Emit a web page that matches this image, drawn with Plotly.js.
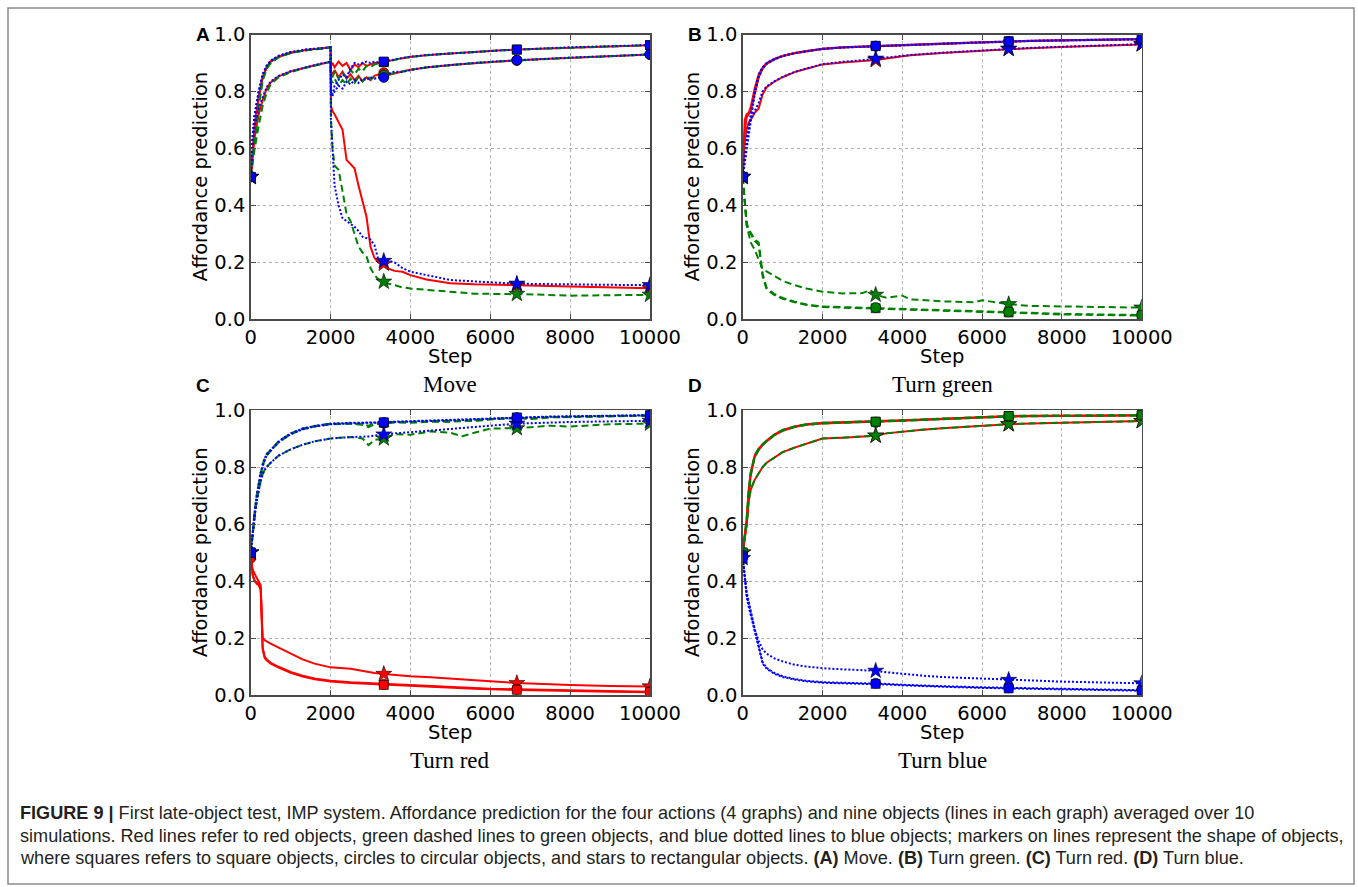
<!DOCTYPE html>
<html><head><meta charset="utf-8">
<script src="https://cdn.plot.ly/plotly-3.0.1.min.js"></script>
<style>html,body{margin:0;padding:0;background:#fff}</style>
</head><body><div id="chart" style="width:1358px;height:887px"></div>
<script>
// ---------- DATA ----------
var markX = [0, 3333, 6666, 10000];
var xTicks = [0, 2000, 4000, 6000, 8000, 10000];
var yTicks = [0, 0.2, 0.4, 0.6, 0.8, 1.0];
var panelTitles = ["Move", "Turn green", "Turn red", "Turn blue"];
var panelLetters = ["A", "B", "C", "D"];

// Panel A: Move
var xA = [0, 50, 100, 200, 300, 400, 500, 700, 1000, 1400, 1800, 2000, 2010, 2050, 2100, 2200, 2300, 2400, 2500, 2600, 2700, 2800, 2900, 3000, 3100, 3200, 3333, 3450, 3600, 3800, 4000, 4400, 5000, 5600, 6200, 6666, 7200, 8000, 9000, 10000];
var aRedSquare = [0.5, 0.6, 0.68, 0.78, 0.85, 0.885, 0.905, 0.922, 0.936, 0.946, 0.951, 0.955, 0.89, 0.9, 0.885, 0.905, 0.89, 0.9, 0.875, 0.895, 0.885, 0.9, 0.89, 0.895, 0.9, 0.9, 0.904, 0.908, 0.912, 0.917, 0.921, 0.927, 0.933, 0.939, 0.944, 0.947, 0.95, 0.954, 0.958, 0.962];
var aRedCircle = [0.5, 0.58, 0.64, 0.72, 0.77, 0.81, 0.832, 0.853, 0.87, 0.885, 0.898, 0.904, 0.87, 0.86, 0.875, 0.85, 0.87, 0.845, 0.86, 0.84, 0.855, 0.835, 0.85, 0.84, 0.855, 0.86, 0.866, 0.858, 0.864, 0.87, 0.876, 0.884, 0.893, 0.9, 0.906, 0.91, 0.913, 0.918, 0.924, 0.93];
var aRedStar = [0.5, 0.6, 0.68, 0.78, 0.85, 0.885, 0.905, 0.922, 0.936, 0.946, 0.951, 0.955, 0.75, 0.73, 0.72, 0.69, 0.665, 0.56, 0.545, 0.53, 0.47, 0.41, 0.36, 0.255, 0.215, 0.2, 0.195, 0.178, 0.17, 0.167, 0.155, 0.14, 0.127, 0.123, 0.122, 0.12, 0.118, 0.115, 0.111, 0.109];
var aGreenSquare = [0.5, 0.56, 0.64, 0.75, 0.84, 0.88, 0.9, 0.92, 0.935, 0.945, 0.951, 0.955, 0.86, 0.85, 0.87, 0.845, 0.865, 0.85, 0.875, 0.86, 0.88, 0.87, 0.89, 0.885, 0.895, 0.898, 0.903, 0.908, 0.912, 0.917, 0.921, 0.927, 0.933, 0.939, 0.944, 0.947, 0.95, 0.954, 0.958, 0.962];
var aGreenCircle = [0.5, 0.55, 0.6, 0.68, 0.75, 0.795, 0.825, 0.85, 0.868, 0.884, 0.897, 0.904, 0.84, 0.83, 0.845, 0.82, 0.84, 0.825, 0.845, 0.83, 0.85, 0.835, 0.855, 0.845, 0.85, 0.855, 0.858, 0.86, 0.864, 0.87, 0.876, 0.884, 0.893, 0.9, 0.905, 0.909, 0.913, 0.918, 0.924, 0.93];
var aGreenStar = [0.5, 0.56, 0.64, 0.75, 0.84, 0.88, 0.9, 0.92, 0.935, 0.945, 0.951, 0.955, 0.7, 0.6, 0.54, 0.525, 0.45, 0.37, 0.345, 0.3, 0.255, 0.235, 0.22, 0.18, 0.155, 0.14, 0.132, 0.125, 0.12, 0.112, 0.108, 0.103, 0.097, 0.09, 0.089, 0.089, 0.087, 0.083, 0.084, 0.086];
var aBlueSquare = [0.5, 0.65, 0.72, 0.8, 0.86, 0.89, 0.908, 0.925, 0.938, 0.947, 0.952, 0.955, 0.8, 0.79, 0.82, 0.84, 0.86, 0.85, 0.88, 0.9, 0.895, 0.9, 0.905, 0.9, 0.905, 0.902, 0.905, 0.91, 0.913, 0.917, 0.922, 0.928, 0.934, 0.94, 0.944, 0.947, 0.951, 0.955, 0.959, 0.963];
var aBlueCircle = [0.5, 0.62, 0.68, 0.74, 0.78, 0.815, 0.835, 0.855, 0.871, 0.886, 0.899, 0.904, 0.8, 0.785, 0.8, 0.82, 0.81, 0.835, 0.825, 0.84, 0.83, 0.845, 0.84, 0.85, 0.845, 0.848, 0.849, 0.862, 0.87, 0.868, 0.875, 0.885, 0.893, 0.9, 0.906, 0.91, 0.914, 0.919, 0.924, 0.93];
var aBlueStar = [0.5, 0.65, 0.72, 0.8, 0.86, 0.89, 0.908, 0.925, 0.938, 0.947, 0.952, 0.955, 0.7, 0.6, 0.47, 0.4, 0.355, 0.345, 0.335, 0.325, 0.31, 0.29, 0.285, 0.28, 0.26, 0.208, 0.205, 0.205, 0.2, 0.18, 0.167, 0.155, 0.138, 0.133, 0.128, 0.125, 0.124, 0.122, 0.121, 0.12];

// Panel B: Turn green
var xB = [0, 50, 100, 150, 200, 300, 400, 500, 600, 800, 1000, 1300, 1600, 2000, 2500, 3000, 3200, 3333, 3600, 4000, 4200, 5000, 5800, 6000, 6400, 6666, 7200, 8000, 9000, 10000];
var bRedSquare = [0.5, 0.7, 0.72, 0.725, 0.745, 0.81, 0.86, 0.885, 0.9, 0.915, 0.925, 0.935, 0.942, 0.95, 0.955, 0.958, 0.959, 0.96, 0.962, 0.964, 0.965, 0.968, 0.972, 0.973, 0.975, 0.976, 0.978, 0.98, 0.982, 0.984];
var bRedCircle = [0.5, 0.66, 0.71, 0.72, 0.73, 0.79, 0.85, 0.88, 0.897, 0.913, 0.924, 0.934, 0.941, 0.949, 0.954, 0.957, 0.958, 0.959, 0.961, 0.963, 0.964, 0.967, 0.971, 0.972, 0.974, 0.975, 0.977, 0.979, 0.981, 0.983];
var bRedStar = [0.5, 0.62, 0.67, 0.69, 0.7, 0.725, 0.74, 0.79, 0.815, 0.835, 0.85, 0.868, 0.88, 0.895, 0.902, 0.907, 0.909, 0.91, 0.916, 0.923, 0.927, 0.935, 0.942, 0.944, 0.947, 0.949, 0.952, 0.956, 0.961, 0.965];
var bGreenSquare = [0.5, 0.4, 0.33, 0.31, 0.3, 0.275, 0.262, 0.15, 0.105, 0.085, 0.072, 0.06, 0.05, 0.043, 0.041, 0.04, 0.039, 0.039, 0.038, 0.036, 0.035, 0.031, 0.028, 0.027, 0.025, 0.024, 0.021, 0.017, 0.015, 0.013];
var bGreenCircle = [0.5, 0.41, 0.34, 0.315, 0.305, 0.28, 0.27, 0.16, 0.11, 0.088, 0.075, 0.062, 0.052, 0.045, 0.043, 0.042, 0.041, 0.041, 0.04, 0.038, 0.037, 0.033, 0.03, 0.029, 0.027, 0.026, 0.023, 0.019, 0.017, 0.015];
var bGreenStar = [0.5, 0.4, 0.33, 0.3, 0.27, 0.245, 0.21, 0.175, 0.168, 0.15, 0.135, 0.12, 0.108, 0.097, 0.091, 0.092, 0.103, 0.086, 0.076, 0.083, 0.07, 0.063, 0.06, 0.067, 0.058, 0.053, 0.047, 0.045, 0.043, 0.041];
var bBlueSquare = [0.5, 0.56, 0.62, 0.67, 0.72, 0.8, 0.86, 0.885, 0.9, 0.915, 0.925, 0.935, 0.942, 0.95, 0.955, 0.958, 0.959, 0.96, 0.962, 0.964, 0.965, 0.968, 0.972, 0.973, 0.975, 0.976, 0.978, 0.98, 0.982, 0.984];
var bBlueCircle = [0.5, 0.55, 0.6, 0.65, 0.7, 0.79, 0.85, 0.88, 0.897, 0.913, 0.924, 0.934, 0.941, 0.949, 0.954, 0.957, 0.958, 0.959, 0.961, 0.963, 0.964, 0.967, 0.971, 0.972, 0.974, 0.975, 0.977, 0.979, 0.981, 0.983];
var bBlueStar = [0.5, 0.58, 0.64, 0.68, 0.7, 0.73, 0.76, 0.8, 0.818, 0.836, 0.851, 0.869, 0.881, 0.896, 0.904, 0.909, 0.912, 0.915, 0.919, 0.925, 0.928, 0.936, 0.943, 0.945, 0.948, 0.95, 0.953, 0.957, 0.962, 0.966];

// Panel C: Turn red
var xC = [0, 50, 100, 150, 200, 250, 270, 300, 350, 400, 500, 700, 1000, 1300, 1600, 2000, 2500, 2800, 2950, 3100, 3333, 3600, 4000, 4500, 5000, 5300, 5600, 6000, 6666, 7000, 7500, 8000, 9000, 10000];
var cRedSquare = [0.5, 0.42, 0.4, 0.395, 0.39, 0.375, 0.3, 0.16, 0.13, 0.122, 0.11, 0.096, 0.078, 0.065, 0.055, 0.047, 0.042, 0.04, 0.039, 0.037, 0.035, 0.033, 0.031, 0.028, 0.026, 0.024, 0.022, 0.02, 0.018, 0.017, 0.015, 0.013, 0.011, 0.01];
var cRedCircle = [0.48, 0.44, 0.425, 0.41, 0.4, 0.385, 0.31, 0.165, 0.135, 0.125, 0.113, 0.099, 0.081, 0.068, 0.058, 0.05, 0.045, 0.043, 0.042, 0.04, 0.038, 0.036, 0.033, 0.031, 0.028, 0.026, 0.024, 0.022, 0.02, 0.019, 0.017, 0.015, 0.013, 0.011];
var cRedStar = [0.5, 0.42, 0.4, 0.39, 0.385, 0.37, 0.3, 0.2, 0.192, 0.187, 0.18, 0.166, 0.145, 0.125, 0.11, 0.097, 0.092, 0.085, 0.08, 0.077, 0.074, 0.07, 0.066, 0.062, 0.058, 0.055, 0.052, 0.048, 0.042, 0.04, 0.037, 0.035, 0.032, 0.03];
var cGreenSquare = [0.5, 0.58, 0.645, 0.7, 0.745, 0.78, 0.79, 0.81, 0.83, 0.845, 0.86, 0.89, 0.918, 0.935, 0.944, 0.952, 0.953, 0.95, 0.945, 0.952, 0.955, 0.958, 0.958, 0.96, 0.962, 0.96, 0.966, 0.968, 0.973, 0.97, 0.975, 0.976, 0.979, 0.981];
var cGreenCircle = [0.5, 0.57, 0.635, 0.69, 0.735, 0.77, 0.782, 0.803, 0.825, 0.84, 0.857, 0.887, 0.915, 0.932, 0.942, 0.95, 0.952, 0.948, 0.94, 0.95, 0.954, 0.956, 0.955, 0.959, 0.958, 0.962, 0.961, 0.967, 0.972, 0.968, 0.974, 0.975, 0.978, 0.98];
var cGreenStar = [0.5, 0.57, 0.63, 0.68, 0.72, 0.75, 0.76, 0.775, 0.79, 0.8, 0.815, 0.84, 0.862, 0.878, 0.89, 0.9, 0.905, 0.9, 0.877, 0.895, 0.9, 0.915, 0.913, 0.925, 0.92, 0.908, 0.92, 0.935, 0.936, 0.94, 0.945, 0.942, 0.95, 0.952];
var cBlueSquare = [0.5, 0.58, 0.645, 0.7, 0.745, 0.78, 0.79, 0.81, 0.83, 0.845, 0.86, 0.89, 0.918, 0.935, 0.944, 0.952, 0.955, 0.955, 0.956, 0.956, 0.957, 0.959, 0.961, 0.962, 0.964, 0.965, 0.967, 0.97, 0.974, 0.975, 0.977, 0.978, 0.98, 0.982];
var cBlueCircle = [0.5, 0.57, 0.635, 0.69, 0.735, 0.77, 0.782, 0.803, 0.825, 0.84, 0.857, 0.887, 0.915, 0.932, 0.942, 0.95, 0.953, 0.954, 0.955, 0.955, 0.956, 0.958, 0.96, 0.961, 0.963, 0.964, 0.966, 0.969, 0.973, 0.974, 0.976, 0.977, 0.979, 0.981];
var cBlueStar = [0.5, 0.57, 0.63, 0.68, 0.72, 0.75, 0.76, 0.775, 0.79, 0.8, 0.815, 0.84, 0.862, 0.878, 0.89, 0.9, 0.905, 0.906, 0.907, 0.91, 0.914, 0.918, 0.922, 0.928, 0.935, 0.938, 0.941, 0.945, 0.952, 0.954, 0.956, 0.958, 0.96, 0.962];

// Panel D: Turn blue (red and green curves coincide)
var xD = [0, 50, 100, 150, 200, 300, 400, 500, 600, 800, 1000, 1300, 1600, 2000, 2500, 3000, 3333, 3600, 4000, 4500, 5000, 6000, 6666, 7200, 8000, 9000, 10000];
var dRedGreenSquare = [0.5, 0.56, 0.62, 0.72, 0.78, 0.84, 0.865, 0.88, 0.893, 0.915, 0.93, 0.942, 0.95, 0.955, 0.957, 0.958, 0.959, 0.961, 0.964, 0.967, 0.97, 0.976, 0.979, 0.98, 0.981, 0.982, 0.982];
var dRedGreenCircle = [0.5, 0.55, 0.6, 0.7, 0.77, 0.835, 0.86, 0.877, 0.89, 0.912, 0.927, 0.94, 0.948, 0.953, 0.955, 0.956, 0.957, 0.959, 0.962, 0.965, 0.968, 0.974, 0.977, 0.978, 0.979, 0.98, 0.981];
var dRedGreenStar = [0.5, 0.55, 0.6, 0.68, 0.72, 0.755, 0.78, 0.8, 0.815, 0.835, 0.852, 0.868, 0.882, 0.9, 0.903, 0.906, 0.91, 0.918, 0.924, 0.931, 0.936, 0.945, 0.95, 0.953, 0.956, 0.959, 0.961];
var dBlueSquare = [0.48, 0.4, 0.345, 0.31, 0.28, 0.22, 0.16, 0.11, 0.092, 0.074, 0.063, 0.054, 0.048, 0.043, 0.041, 0.04, 0.039, 0.037, 0.034, 0.031, 0.029, 0.025, 0.023, 0.021, 0.019, 0.017, 0.015];
var dBlueCircle = [0.49, 0.41, 0.35, 0.32, 0.29, 0.23, 0.17, 0.115, 0.095, 0.077, 0.066, 0.056, 0.05, 0.045, 0.043, 0.042, 0.041, 0.039, 0.036, 0.033, 0.031, 0.027, 0.025, 0.023, 0.021, 0.019, 0.017];
var dBlueStar = [0.48, 0.42, 0.36, 0.33, 0.3, 0.23, 0.19, 0.16, 0.145, 0.128, 0.118, 0.106, 0.1, 0.094, 0.09, 0.088, 0.085, 0.08, 0.074, 0.068, 0.063, 0.057, 0.053, 0.05, 0.047, 0.044, 0.041];

var captionLines = [
  "<b>FIGURE 9 |</b> First late-object test, IMP system. Affordance prediction for the four actions (4 graphs) and nine objects (lines in each graph) averaged over 10",
  "simulations. Red lines refer to red objects, green dashed lines to green objects, and blue dotted lines to blue objects; markers on lines represent the shape of objects,",
  "where squares refers to square objects, circles to circular objects, and stars to rectangular objects. <b>(A)</b> Move. <b>(B)</b> Turn green. <b>(C)</b> Turn red. <b>(D)</b> Turn blue."
];

// ---------- STYLE ----------
var W = 1358, H = 887;
function px(x){ return x / W; }
function py(y){ return 1 - y / H; }
var COL = {red: "#ff0000", green: "#008000", blue: "#0000ff"};
var DASH = {red: "solid", green: "7px,4px", blue: "2px,2px"};
var SYM = {square: "square", circle: "circle", star: "star"};
var MSIZE = {square: 9, circle: 10, star: 12};

var panels = [
  {ax: "", x: xA, series: [
    ["red","star",aRedStar],["red","circle",aRedCircle],["red","square",aRedSquare],
    ["green","star",aGreenStar],["green","circle",aGreenCircle],["green","square",aGreenSquare],
    ["blue","star",aBlueStar],["blue","circle",aBlueCircle],["blue","square",aBlueSquare]]},
  {ax: "2", x: xB, series: [
    ["red","star",bRedStar],["red","circle",bRedCircle],["red","square",bRedSquare],
    ["green","star",bGreenStar],["green","square",bGreenSquare],["green","circle",bGreenCircle],
    ["blue","star",bBlueStar],["blue","circle",bBlueCircle],["blue","square",bBlueSquare]]},
  {ax: "3", x: xC, series: [
    ["red","star",cRedStar],["red","circle",cRedCircle],["red","square",cRedSquare],
    ["green","star",cGreenStar],["green","circle",cGreenCircle],["green","square",cGreenSquare],
    ["blue","star",cBlueStar],["blue","circle",cBlueCircle],["blue","square",cBlueSquare]]},
  {ax: "4", x: xD, series: [
    ["red","star",dRedGreenStar],["red","circle",dRedGreenCircle],["red","square",dRedGreenSquare],
    ["green","star",dRedGreenStar],["green","circle",dRedGreenCircle],["green","square",dRedGreenSquare],
    ["blue","star",dBlueStar],["blue","circle",dBlueCircle],["blue","square",dBlueSquare]]}
];

var traces = [];
panels.forEach(function(p){
  var xa = "x" + p.ax, ya = "y" + p.ax;
  p.series.forEach(function(s){
    var color = s[0], shape = s[1], ys = s[2];
    traces.push({type: "scatter", mode: "lines", x: p.x, y: ys, xaxis: xa, yaxis: ya,
      line: {color: COL[color], width: 2, dash: DASH[color]}, hoverinfo: "skip", cliponaxis: true});
    var mx = [], my = [];
    p.x.forEach(function(v, i){ if (markX.indexOf(v) >= 0) { mx.push(v); my.push(ys[i]); } });
    traces.push({type: "scatter", mode: "markers", x: mx, y: my, xaxis: xa, yaxis: ya, cliponaxis: true,
      marker: {symbol: SYM[shape], size: MSIZE[shape], color: COL[color], line: {color: "#000", width: 0.6}},
      hoverinfo: "skip"});
  });
});

var tickFont = {family: "DejaVu Sans", size: 19.5, color: "#000"};
function xAxis(domain, anchor){
  return {domain: domain, anchor: anchor, range: [0, 10000], tickvals: xTicks, tickformat: "d",
    showline: true, mirror: "ticks", linecolor: "#4a4a4a", linewidth: 1.5,
    ticks: "inside", ticklen: 5, tickwidth: 1, tickcolor: "#4a4a4a",
    showgrid: true, gridcolor: "#b0b0b0", griddash: "dot", gridwidth: 1, zeroline: false,
    tickfont: tickFont, fixedrange: true};
}
function yAxis(domain, anchor){
  return {domain: domain, anchor: anchor, range: [0, 1], tickvals: yTicks, tickformat: ".1f",
    showline: true, mirror: "ticks", linecolor: "#4a4a4a", linewidth: 1.5,
    ticks: "inside", ticklen: 5, tickwidth: 1, tickcolor: "#4a4a4a",
    showgrid: true, gridcolor: "#b0b0b0", griddash: "dot", gridwidth: 1, zeroline: false,
    tickfont: tickFont, fixedrange: true};
}

var colL = [px(250.7), px(650)], colR = [px(742.7), px(1141.7)];
var rowT = [py(319.3), py(34.5)], rowB = [py(695), py(410)];

var annotations = [];
var centersX = [450.3, 942.2, 450.3, 942.2];
var plotBottoms = [319.3, 319.3, 695, 695];
var plotTops = [34.5, 34.5, 410, 410];
var plotLefts = [250.7, 742.7, 250.7, 742.7];
for (var i = 0; i < 4; i++) {
  annotations.push({xref: "paper", yref: "paper", x: px(centersX[i]), y: py(plotBottoms[i] + 37),
    text: "Step", showarrow: false, xanchor: "center", yanchor: "middle",
    font: {family: "DejaVu Sans", size: 19.5, color: "#000"}});
  annotations.push({xref: "paper", yref: "paper", x: px(centersX[i]), y: py(plotBottoms[i] + 65),
    text: panelTitles[i], showarrow: false, xanchor: "center", yanchor: "middle",
    font: {family: "Liberation Serif", size: 23, color: "#000"}});
  annotations.push({xref: "paper", yref: "paper", x: px(plotLefts[i] - 50), y: py((plotTops[i] + plotBottoms[i]) / 2),
    text: "Affordance prediction", textangle: -90, showarrow: false, xanchor: "center", yanchor: "middle",
    font: {family: "DejaVu Sans", size: 19.5, color: "#000"}});
  var letterY = (i < 2) ? 34.5 : 385;
  annotations.push({xref: "paper", yref: "paper", x: px(plotLefts[i] - 57), y: py(letterY), text: "<b>" + panelLetters[i] + "</b>",
    showarrow: false, xanchor: "left", yanchor: "middle",
    font: {family: "Liberation Sans", size: 19, color: "#000"}});
}
var capY = [813, 836, 858];
captionLines.forEach(function(t, k){
  annotations.push({xref: "paper", yref: "paper", x: px(18), y: py(capY[k]), text: t,
    showarrow: false, xanchor: "left", yanchor: "middle", align: "left",
    font: {family: "Liberation Sans", size: 18.1, color: "#231f20"}});
});

var layout = {
  width: W, height: H, margin: {l: 0, r: 0, t: 0, b: 0},
  paper_bgcolor: "#fff", plot_bgcolor: "#fff", showlegend: false,
  xaxis: xAxis(colL, "y"), yaxis: yAxis(rowT, "x"),
  xaxis2: xAxis(colR, "y2"), yaxis2: yAxis(rowT, "x2"),
  xaxis3: xAxis(colL, "y3"), yaxis3: yAxis(rowB, "x3"),
  xaxis4: xAxis(colR, "y4"), yaxis4: yAxis(rowB, "x4"),
  annotations: annotations,
  shapes: [{type: "rect", xref: "paper", yref: "paper", x0: px(8), x1: px(1354), y0: py(884), y1: py(8),
    line: {color: "#8a8a8a", width: 1.5}, fillcolor: "rgba(0,0,0,0)"}]
};

Plotly.newPlot("chart", traces, layout, {staticPlot: true, displayModeBar: false});
</script></body></html>
